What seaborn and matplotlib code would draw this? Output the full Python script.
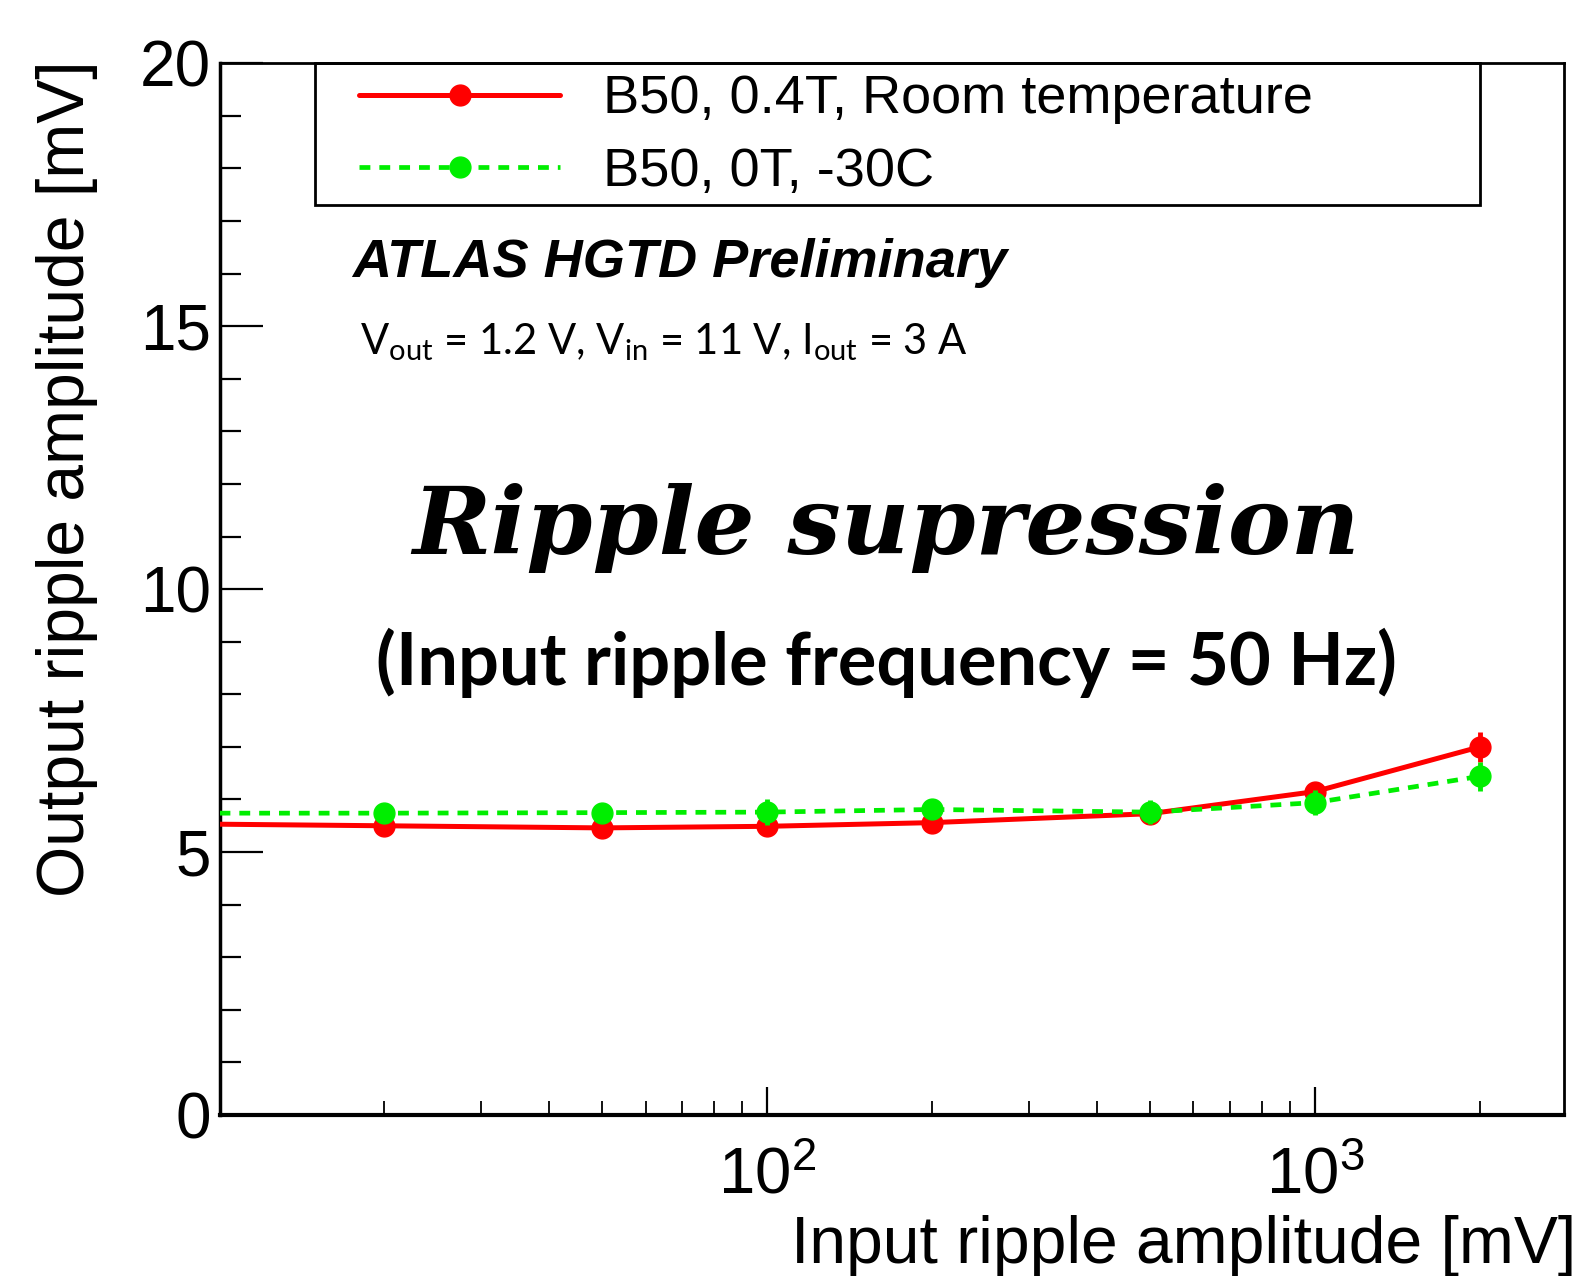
import numpy as np
import pandas as pd
import seaborn as sns
import matplotlib
matplotlib.use("Agg")
import matplotlib.pyplot as plt
from matplotlib.lines import Line2D
from matplotlib.patches import Rectangle
from matplotlib.ticker import FixedLocator, MultipleLocator, NullFormatter, LogLocator

# ---- data ----
input_mv = [10, 20, 50, 100, 200, 500, 1000, 2000]
red_out = [5.53, 5.50, 5.46, 5.49, 5.56, 5.73, 6.15, 7.00]
red_err = [0.10, 0.10, 0.10, 0.10, 0.10, 0.10, 0.13, 0.29]
green_out = [5.74, 5.74, 5.75, 5.76, 5.81, 5.76, 5.94, 6.44]
green_err = [0.12, 0.15, 0.15, 0.24, 0.15, 0.23, 0.24, 0.27]
series_labels = ["B50, 0.4T, Room temperature", "B50, 0T, -30C"]
x_ticks = [100, 1000]
y_ticks = [0, 5, 10, 15, 20]

W, H = 1579, 1276
sns.set_theme(style="white")
plt.rcParams["font.family"] = ["Liberation Sans", "DejaVu Sans"]
plt.rcParams.update({
    "axes.edgecolor": "black", "text.color": "black", "axes.labelcolor": "black",
    "xtick.color": "black", "ytick.color": "black",
    "xtick.bottom": True, "ytick.left": True,
})

fig = plt.figure(figsize=(W / 100, H / 100), dpi=100)
fig.patch.set_facecolor("white")
ax = fig.add_axes([219.5 / W, 1 - 1115 / H, (1564 - 219.5) / W, (1115 - 63.3) / H])
ax.set_facecolor("white")

RED = "#ff0000"
GREEN = "#00ee00"
DASH = (0, (2.3, 1.9))

df = pd.DataFrame({
    "x": input_mv * 2,
    "y": red_out + green_out,
    "err": red_err + green_err,
    "series": [series_labels[0]] * len(input_mv) + [series_labels[1]] * len(input_mv),
})
dr = df[df.series == series_labels[0]]
dg = df[df.series == series_labels[1]]

sns.lineplot(data=dr, x="x", y="y", color=RED, lw=3.6, ax=ax, legend=False, zorder=3)
sns.lineplot(data=dg, x="x", y="y", color=GREEN, lw=3.4, linestyle=DASH,
             ax=ax, legend=False, zorder=4)

xmin, xmax = 10, 2850
for d, c, z in [(dr, RED, 5), (dg, GREEN, 6)]:
    inside = d[d.x > xmin]
    ax.errorbar(inside.x, inside.y, yerr=inside.err, fmt="o", color=c, ms=15,
                elinewidth=3.5, capsize=0, zorder=z)

ax.set_xscale("log")
ax.set_xlim(xmin, xmax)
ax.set_ylim(0, 20)

ax.xaxis.set_major_locator(FixedLocator(x_ticks))
ax.xaxis.set_minor_locator(LogLocator(base=10, subs=np.arange(2, 10), numticks=20))
ax.xaxis.set_minor_formatter(NullFormatter())
ax.yaxis.set_major_locator(FixedLocator(y_ticks))
ax.yaxis.set_minor_locator(MultipleLocator(1))

ax.tick_params(axis="both", which="both", direction="in", top=False, right=False,
               bottom=True, left=True, colors="black", labelcolor="black")
ax.tick_params(axis="y", which="major", length=31, width=1.6, labelsize=46, pad=6)
ax.tick_params(axis="y", which="minor", length=15, width=1.6)
ax.tick_params(axis="x", which="major", length=20, width=1.6, labelsize=47, pad=23)
ax.tick_params(axis="x", which="minor", length=10, width=1.3)

for s in ax.spines.values():
    s.set_visible(True)
    s.set_color("black")
    s.set_linewidth(2)
ax.spines["left"].set_linewidth(2.5)
ax.spines["bottom"].set_linewidth(3)

ax.set_xlabel("Input ripple amplitude [mV]", fontsize=47.5, loc="right", color="black")
ax.xaxis.set_label_coords(1.009, -0.0955)
ax.set_ylabel("Output ripple amplitude [mV]", fontsize=47.5, loc="top", color="black")
ax.yaxis.set_label_coords(-0.090, 1.003)

# legend box (fixed size, ROOT style) + entries
ax.add_patch(Rectangle((0.071, 0.8656), 0.9375 - 0.071, 1.0 - 0.8656, transform=ax.transAxes,
                       fill=False, edgecolor="black", lw=2, zorder=10, clip_on=False))
handles = [
    Line2D([0], [0], color=RED, lw=3.6, marker="o", ms=15),
    Line2D([0], [0], color=GREEN, lw=3.4, linestyle=DASH, marker="o", ms=15),
]
leg = ax.legend(handles, series_labels, loc="center left", bbox_to_anchor=(0.104, 0.931),
                frameon=False, fontsize=39, handlelength=3.7, handletextpad=0.8,
                labelspacing=0.42, borderpad=0, borderaxespad=0)
for t in leg.get_texts():
    t.set_color("black")

def ftext(x, y, s, **kw):
    fig.text(x / W, 1 - y / H, s, color="black", **kw)

ftext(352, 277, "ATLAS HGTD Preliminary", fontsize=39, fontweight="bold",
      fontstyle="italic", ha="left", va="baseline", family=["Liberation Sans"])
ftext(360, 354, r"V$_\mathregular{out}$ = 1.2 V, V$_\mathregular{in}$ = 11 V, I$_\mathregular{out}$ = 3 A",
      fontsize=30, ha="left", va="baseline", family=["Lato"])
ftext(886, 554, "Ripple supression", fontsize=68, fontweight="bold", fontstyle="italic",
      ha="center", va="baseline", family=["DejaVu Serif"])
ftext(886, 685, "(Input ripple frequency = 50 Hz)", fontsize=52, fontweight="bold",
      ha="center", va="baseline", family=["Lato"])

fig.savefig("out.png", dpi=100, facecolor="white")
